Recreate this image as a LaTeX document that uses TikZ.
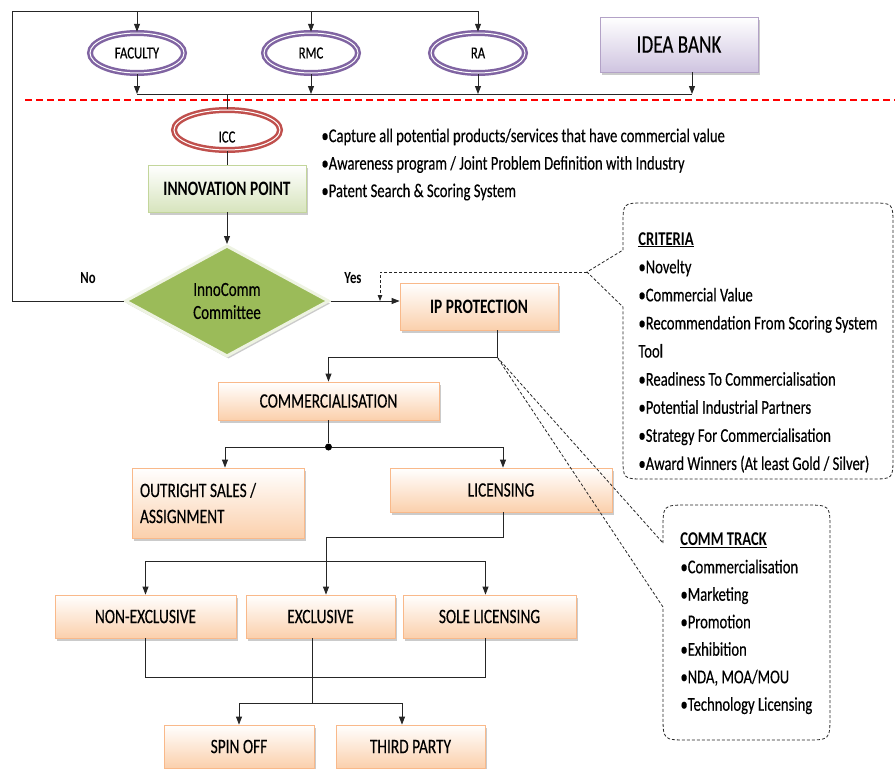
\documentclass[tikz,border=0pt]{standalone}
\usepackage{fontspec}
\setmainfont{Carlito}[FakeStretch=0.75, UprightFeatures={FakeBold=0.3}]
\usepackage{tikz}
\usepackage{xcolor}
\usetikzlibrary{arrows.meta, shapes.geometric, shadows}

\definecolor{vio}{HTML}{8064A2}
\definecolor{iccred}{HTML}{C0504D}
\definecolor{lavfill}{HTML}{CFC4E0}
\definecolor{lavdraw}{HTML}{B3A2C7}
\definecolor{palegreen}{HTML}{D7E4BD}
\definecolor{greendraw}{HTML}{C3D69B}
\definecolor{dgreen}{HTML}{9BBB59}
\definecolor{dgedge}{HTML}{EEF3E2}
\definecolor{peach}{HTML}{FBD0AC}
\definecolor{porange}{HTML}{F9B98A}

\begin{document}
\begin{tikzpicture}[x=1pt, y=-1pt, line width=0.9pt, draw=black!85,
  arr/.style={-{Triangle[width=6pt,length=8pt]}},
  smallarr/.style={-{Triangle[width=4.5pt,length=6pt]}},
  callout/.style={dashed, dash pattern=on 3pt off 2pt, line width=0.8pt},
  ring/.style={ellipse, draw=#1, line width=2.5pt, double=white, double distance=1pt,
    minimum width=94pt, minimum height=40pt, inner sep=0pt, font=\fontsize{17}{19}\selectfont},
  shade/.style={drop shadow={shadow xshift=1.5pt, shadow yshift=-2.5pt, fill=black!45, opacity=.45}},
  pbox/.style={rectangle, draw=porange, line width=0.8pt, top color=white, bottom color=peach,
    shade, inner sep=2pt, font=\fontsize{20.5}{23}\selectfont},
  gbox/.style={rectangle, draw=greendraw, line width=0.8pt, top color=white, bottom color=palegreen,
    shade, inner sep=2pt, font=\bfseries\fontsize{20.5}{23}\selectfont},
  lbox/.style={rectangle, draw=lavdraw, line width=0.8pt, top color=white, bottom color=lavfill,
    shade, inner sep=2pt, font=\fontsize{25.5}{28}\selectfont},
  decide/.style={diamond, fill=dgreen, draw=dgedge, line width=3pt, shade,
    minimum width=204pt, minimum height=111pt, inner sep=0pt, align=center,
    font=\fontsize{20}{23}\selectfont},
  yesno/.style={font=\bfseries\fontsize{17}{20}\selectfont},
  bullets/.style={anchor=west, align=left, inner sep=0pt}]

\path[use as bounding box, fill=white] (0,0) rectangle (895,769);

\node[ring=vio] (fac) at (137,53) {FACULTY};
\node[ring=vio] (rmc) at (311,53) {RMC};
\node[ring=vio] (ra) at (478,53) {RA};
\node[lbox, minimum width=158pt, minimum height=55pt] (ib) at (679,44.5) {IDEA BANK};

\draw[red, line width=2.5pt, dash pattern=on 7pt off 4pt] (25,100) -- (895,100);

\node[ring=iccred, minimum width=106pt,
  label={[font=\fontsize{17}{19}\selectfont, yshift=-7pt]center:ICC}] (icc) at (227,130) {};
\node[gbox, minimum width=158pt, minimum height=47pt] (inp) at (227,188.5) {INNOVATION POINT};
\node[bullets, font=\fontsize{19.5}{27.5}\selectfont] (notes) at (321,164.5)
  {•Capture all potential products/services that have commercial value\\
   •Awareness program / Joint Problem Definition with Industry\\
   •Patent Search \& Scoring System};

\node[decide] (comm) at (227,301) {InnoComm\\Committee};
\node[yesno] (lno) at (88,278) {No};
\node[yesno] (lyes) at (353,278) {Yes};
\node[pbox, minimum width=158pt, minimum height=47pt, font=\bfseries\fontsize{20.5}{23}\selectfont] (ipp) at (479,306.5) {IP PROTECTION};

\node[bullets, font=\fontsize{19.5}{28.1}\selectfont] (crit) at (638,352.5)
  {\underline{\textbf{CRITERIA}}\\
   •Novelty\\
   •Commercial Value\\
   •Recommendation From Scoring  System\\
   Tool\\
   •Readiness To Commercialisation\\
   •Potential Industrial Partners\\
   •Strategy For Commercialisation\\
   •Award Winners (At least Gold / Silver)};

\node[pbox, minimum width=221pt, minimum height=38pt] (com) at (328.5,401) {COMMERCIALISATION};
\node[circle, fill=black, inner sep=0pt, minimum size=7pt] (dot) at (328.5,447) {};
\node[pbox, minimum width=172pt, minimum height=70pt, inner xsep=8pt, text width=156pt,
  align=flush left, font=\fontsize{20.5}{26}\selectfont] (ors) at (218,503) {OUTRIGHT SALES /\\ASSIGNMENT};
\node[pbox, minimum width=222pt, minimum height=44pt] (lic) at (501,490) {LICENSING};

\node[pbox, minimum width=181pt, minimum height=43pt] (nex) at (145.5,616.5) {NON-EXCLUSIVE};
\node[pbox, minimum width=149pt, minimum height=43pt] (exc) at (320.5,616.5) {EXCLUSIVE};
\node[pbox, minimum width=173pt, minimum height=43pt] (sole) at (489.5,616.5) {SOLE LICENSING};
\node[pbox, minimum width=150pt, minimum height=43pt] (spin) at (239,746.5) {SPIN OFF};
\node[pbox, minimum width=149pt, minimum height=43pt] (third) at (410.5,746.5) {THIRD PARTY};

\node[bullets, font=\fontsize{19.5}{27.5}\selectfont] (track) at (680,623.5)
  {\underline{\textbf{COMM TRACK}}\\
   •Commercialisation\\
   •Marketing\\
   •Promotion\\
   •Exhibition\\
   •NDA, MOA/MOU\\
   •Technology Licensing};

\coordinate (tl) at (12,11);
\coordinate (jr) at (692,94);
\coordinate (yesin) at (380,301);
\coordinate (critapex) at (587,272);
\coordinate (ipfoot) at (497,357);
\coordinate (licfoot) at (503,537);
\coordinate (lbranch) at (326,561);
\coordinate (lowjoin) at (144,677);
\coordinate (exfoot) at (312,703);

% loop back from the committee
\draw (comm.west) -| (tl) -- (tl -| ra.north);
\foreach \n in {fac,rmc,ra}
  \draw[arr] (tl -| \n.north) -- (\n.north);

\foreach \n in {fac,rmc,ra}
  \draw[arr] (\n.south) -- (\n.south |- jr);
\draw[arr] (jr |- ib.south) -- (jr);
\draw (fac.south |- jr) -- (jr);
\draw (icc.north |- jr) -- (icc.north);
\draw (icc.south) -- (inp.north);
\draw[arr] (inp.south) -- (comm.north);
\draw[arr] (comm.east) -- (comm.east -| ipp.west);

% criteria callout
\draw[callout, smallarr] (critapex) -- (critapex -| yesin) -- (yesin);
\draw[callout] (623,250) -- (623,225) .. controls (623,203) .. (645,203) -- (871,203)
  .. controls (893,203) .. (893,225) -- (893,457) .. controls (893,479) .. (871,479)
  -- (645,479) .. controls (623,479) .. (623,457) -- (623,307) -- (critapex) -- cycle;

\draw[arr] (ipfoot |- ipp.south) -- (ipfoot) -| (com.north);
\draw (com.south) -- (dot);
\draw[arr] (dot) -| ([xshift=7pt]ors.north);
\draw[arr] (dot) -| ([xshift=2pt]lic.north);

% comm track callout
\draw[callout] (663,543) -- (663,530) .. controls (663,505) .. (688,505) -- (805,505)
  .. controls (830,505) .. (830,530) -- (830,715) .. controls (830,740) .. (805,740)
  -- (688,740) .. controls (663,740) .. (663,715) -- (663,607) -- (ipfoot) -- cycle;

\draw[arr] (licfoot |- lic.south) -- (licfoot) -| ([xshift=5.5pt]exc.north);
\draw (nex.north |- lbranch) -- ([xshift=-4pt]sole.north |- lbranch);
\draw[arr] (nex.north |- lbranch) -- (nex.north);
\draw[arr] ([xshift=-4pt]sole.north |- lbranch) -- ([xshift=-4pt]sole.north);

\draw (nex.south) -- (nex.south |- lowjoin) -- ([xshift=-4pt]sole.south |- lowjoin) -- ([xshift=-4pt]sole.south);
\draw (exfoot |- exc.south) -- (exfoot);
\draw[arr] (exfoot) -| (spin.north);
\draw[arr] (exfoot) -| ([xshift=-8.5pt]third.north);

\end{tikzpicture}
\end{document}
